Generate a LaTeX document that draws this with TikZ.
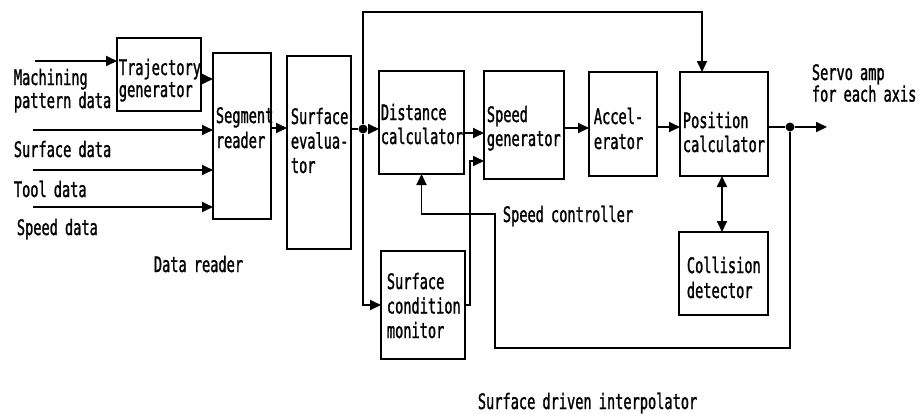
\documentclass[tikz,border=0pt]{standalone}
\usepackage{fontspec}
\newfontfamily\lblfont{DejaVu Sans Mono}[FakeStretch=0.64,FakeBold=1.2]
\usetikzlibrary{arrows.meta}
\begin{document}
\begin{tikzpicture}[x=1pt,y=-1pt,line width=1.8pt,
  box/.style={draw,rectangle,inner sep=0pt,outer sep=0pt,anchor=north west},
  lbl/.style={inner sep=0pt,anchor=base west,text width=300pt,align=left,
              font=\lblfont\fontsize{21.3}{24}\selectfont},
  arr/.style={-{Triangle[length=11pt,width=10pt]}},
  dbl/.style={{Triangle[length=11pt,width=10pt]}-{Triangle[length=11pt,width=10pt]}},
  dot/.style={circle,fill,inner sep=0pt,minimum size=9pt}]
\useasboundingbox (0,0) rectangle (923,413);

% boxes
\node[box,minimum width=84pt,minimum height=73pt]  (traj)  at (117,38)  {};
\node[box,minimum width=58pt,minimum height=166pt] (seg)   at (213,53)  {};
\node[box,minimum width=64pt,minimum height=193pt] (surfe) at (287,56)  {};
\node[box,minimum width=85pt,minimum height=103pt] (dist)  at (379,71)  {};
\node[box,minimum width=80pt,minimum height=108pt] (spd)   at (484,71)  {};
\node[box,minimum width=68pt,minimum height=104pt] (acc)   at (589,72)  {};
\node[box,minimum width=88pt,minimum height=104pt] (pos)   at (680,72)  {};
\node[box,minimum width=89pt,minimum height=83pt]  (coll)  at (679,232) {};
\node[box,minimum width=84pt,minimum height=108pt] (mon)   at (381,251) {};

% labels
\node[lbl,font=\lblfont\fontsize{21.3}{23}\selectfont] (tMach) at (13,85) {Machining\\pattern data};
\node[lbl] (tSurf) at (13,157) {Surface data};
\node[lbl] (tTool) at (13,197) {Tool data};
\node[lbl] (tSpeed) at (16,235) {Speed data};
\node[lbl] (tDR) at (153,272) {Data reader};
\node[lbl,font=\lblfont\fontsize{21.3}{22}\selectfont] (tTraj) at (118,75) {Trajectory\\generator};
\node[lbl,font=\lblfont\fontsize{21.3}{25}\selectfont] (tSeg) at (215,123) {Segment\\reader};
\node[lbl,font=\lblfont\fontsize{21.3}{24.5}\selectfont] (tSE) at (290,124) {Surface\\evalua-\\tor};
\node[lbl] (tDist) at (380,120) {Distance\\calculator};
\node[lbl] (tSpd) at (486,122) {Speed\\generator};
\node[lbl,font=\lblfont\fontsize{21.3}{25}\selectfont] (tAcc) at (593,124) {Accel-\\erator};
\node[lbl] (tPos) at (682,128) {Position\\calculator};
\node[lbl,font=\lblfont\fontsize{21.3}{25}\selectfont] (tColl) at (686,273) {Collision\\detector};
\node[lbl,font=\lblfont\fontsize{21.3}{24.5}\selectfont] (tMon) at (386,289) {Surface\\condition\\monitor};
\node[lbl] (tSC) at (502,222) {Speed controller};
\node[lbl,font=\lblfont\fontsize{21.3}{18}\selectfont] (tServo) at (811,80) {Servo amp\\for each axis};
\node[lbl] (tSDI) at (477,409) {Surface driven interpolator};

% inputs
\coordinate (inM) at (35,61);
\coordinate (inS) at (33,130);
\coordinate (inT) at (33,170);
\coordinate (inV) at (33,207);
\draw[arr] (inM) -- (inM -| traj.west);
\draw[arr] (inS) -- (inS -| seg.west);
\draw[arr] (inT) -- (inT -| seg.west);
\draw[arr] (inV) -- (inV -| seg.west);
\draw[arr] (traj.east |- 0,79) -- (seg.west |- 0,79);
\draw[arr] (seg.east |- 0,128) -- (surfe.west |- 0,128);

% split after surface evaluator
\node[dot] (d1) at (363,129) {};
\draw (surfe.east |- d1) -- (d1);
\draw[arr] (d1) -- (d1 -| dist.west);
\draw[arr] (d1) -- (d1 |- 0,12) -| ([xshift=-22pt]pos.north);
\draw[arr] (d1) |- (mon.west);

% main chain
\draw[arr] (dist.east |- 0,133) -- (spd.west |- 0,133);
\draw[arr] (mon.east) -- ++(5,0) |- (spd.west |- 0,161);
\draw[arr] (spd.east |- 0,128) -- (acc.west |- 0,128);
\draw[arr] (acc.east |- 0,127) -- (pos.west |- 0,127);

% output and feedback
\node[dot] (d2) at (790,127) {};
\coordinate (out) at (827,127);
\coordinate (fb) at (495,214);
\draw (pos.east |- d2) -- (d2);
\draw[arr] (d2) -- (out);
\draw[arr] (d2) -- (d2 |- 0,348) -| (fb) -| (dist.south);
\draw[dbl] ([xshift=-2pt]pos.south) -- ([xshift=-2pt]pos.south |- coll.north);
\end{tikzpicture}
\end{document}
